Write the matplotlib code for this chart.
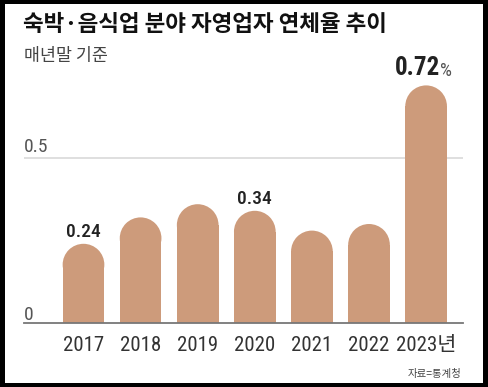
import matplotlib; matplotlib.use("Agg")
import matplotlib.pyplot as plt
import matplotlib.font_manager as fm
from matplotlib.patches import Ellipse, Rectangle

years = ["2017", "2018", "2019", "2020", "2021", "2022", "2023"]
rates = [0.24, 0.32, 0.36, 0.34, 0.28, 0.30, 0.72]
labeled = [True, False, False, True, False, False, True]
yticks = [0, 0.5]
title = "숙박·음식업 분야 자영업자 연체율 추이"
subtitle = "매년말 기준"
source = "자료=통계청"

names = {f.name for f in fm.fontManager.ttflist}
NUM = next((n for n in ["Roboto Condensed", "Liberation Sans Narrow", "Roboto"] if n in names), "DejaVu Sans")
KR = "Noto Sans CJK KR"
BAR = "#cd9b7b"

W, H = 488, 387
fig = plt.figure(figsize=(W/100, H/100), dpi=100, facecolor="black")
fig.patches.append(Rectangle((5/W, 4/H), 478/W, 379/H, transform=fig.transFigure,
                             facecolor="white", edgecolor="none", zorder=-10))

ax = fig.add_axes([24/W, (H-323)/H, 439/W, 264/H])
ax.set_facecolor("none")
x = list(range(len(years)))
ax.set_xlim(-1.042, 6.646); ax.set_ylim(0, 0.8)
for s in ["top", "right", "left"]: ax.spines[s].set_visible(False)
ax.spines["bottom"].set_color("#777"); ax.spines["bottom"].set_linewidth(1.3); ax.spines["bottom"].set_zorder(4)
ax.set_xticks([]); ax.set_yticks([])
for t in yticks[1:]:
    ax.axhline(t, color="#d6d6d6", lw=1.1, zorder=1)

# rounded bar tops: semicircle in pixels -> ellipse in data units
w = 0.73
pxx = 439/(6.646+1.042); pxy = 264/0.8
ry = (w/2*pxx)/pxy
for xi, v in zip(x, rates):
    ax.bar(xi, v-ry, width=w, color=BAR, zorder=2, linewidth=0)
    ax.add_patch(Ellipse((xi, v-ry), w, 2*ry, facecolor=BAR, edgecolor="none", zorder=2))

for xi, v, lab in zip(x, rates, labeled):
    if not lab: continue
    if xi == len(x)-1:
        t = ax.annotate(f"{v:.2f}", (xi, v), xytext=(-6, 7.5), textcoords="offset points",
                        ha="center", va="baseline", fontsize=18, fontweight="bold", family=NUM, color="#222")
        ax.annotate("%", (1, 0), xycoords=t, xytext=(-0.5, 0), textcoords="offset points",
                    ha="left", va="bottom", fontsize=13.5, family=NUM, color="#555")
    else:
        ax.annotate(f"{v:.2f}", (xi, v), xytext=(0, 5), textcoords="offset points",
                    ha="center", va="baseline", fontsize=14, fontweight="medium", family=NUM, color="#222")

for xi, yr in zip(x, years):
    lab = yr + ("년" if xi == len(x)-1 else "")
    ax.annotate(lab, (xi, 0), xytext=(0, -20.5), textcoords="offset points",
                ha="center", va="baseline", fontsize=15, family=[NUM, KR], color="#333")

for t, off in zip(yticks, [2, 4.5]):
    ax.annotate(f"{t:g}", (0, t), xycoords=("axes fraction", "data"), xytext=(0, off),
                textcoords="offset points", ha="left", va="baseline", fontsize=14, family=NUM, color="#555")

fig.text(23/W, 1-31/H, title, fontsize=16.2, fontweight="bold", family=KR, color="#111", va="baseline")
fig.text(24/W, 1-61/H, subtitle, fontsize=12.5, family=KR, color="#444", va="baseline")
fig.text(462/W, 1-377/H, source, fontsize=7.5, family=KR, color="#444", va="baseline", ha="right")

fig.savefig("out.png", dpi=100)
